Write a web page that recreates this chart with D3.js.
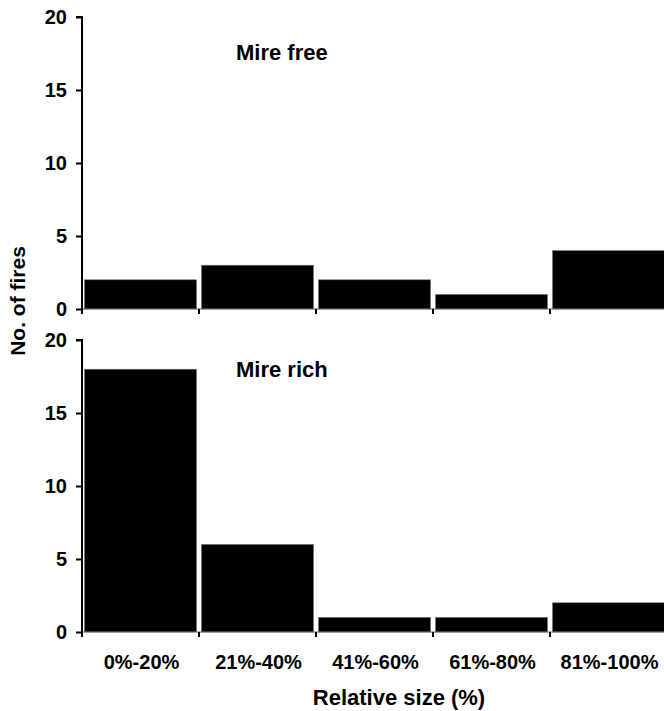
<!DOCTYPE html>
<html>
<head>
<meta charset="utf-8">
<script src="https://cdn.jsdelivr.net/npm/d3@7"></script>
<style>
  html, body { margin: 0; padding: 0; background: #fff; }
  svg { display: block; }
  text { font-family: "Liberation Sans", Arial, sans-serif; font-weight: bold; fill: #000; }
</style>
</head>
<body>
<script>
// Size classes of fires (relative size)
const categories = ["0%-20%", "21%-40%", "41%-60%", "61%-80%", "81%-100%"];
// Number of fires per class, per panel
const mireFree = [2, 3, 2, 1, 4];
const mireRich = [18, 6, 1, 1, 2];
const panelTitles = ["Mire free", "Mire rich"];
const yTicks = [0, 5, 10, 15, 20];
const yLabel = "No. of fires";
const xLabel = "Relative size (%)";

const W = 664, H = 711;
const svg = d3.select("body").append("svg").attr("width", W).attr("height", H);

const axisX = 82;
const x = d3.scaleBand().domain(categories).range([axisX, 667]).padding(0);

const panels = [
  { values: mireFree, title: panelTitles[0], top: 17, bottom: 309, titleY: 60 },
  { values: mireRich, title: panelTitles[1], top: 340, bottom: 632, titleY: 377 }
];

panels.forEach(p => {
  const y = d3.scaleLinear().domain([0, 20]).range([p.bottom, p.top]);
  const g = svg.append("g");

  // bars
  g.selectAll("rect.bar").data(p.values).join("rect")
    .attr("class", "bar")
    .attr("x", (d, i) => x(categories[i]) + 2.5)
    .attr("width", x.bandwidth() - 5)
    .attr("y", d => y(d))
    .attr("height", d => y(0) - y(d))
    .attr("fill", "#000")
    .attr("stroke", "#777")
    .attr("stroke-width", 0.6);

  // x baseline
  g.append("line")
    .attr("x1", axisX).attr("x2", W)
    .attr("y1", y(0)).attr("y2", y(0))
    .attr("stroke", "#666").attr("stroke-width", 1);

  // category boundary ticks
  g.selectAll("line.xtick").data(categories.slice(1)).join("line")
    .attr("class", "xtick")
    .attr("x1", d => x(d)).attr("x2", d => x(d))
    .attr("y1", y(0)).attr("y2", y(0) + 5)
    .attr("stroke", "#000").attr("stroke-width", 2);

  // y axis
  const yAxis = d3.axisLeft(y).tickValues(yTicks).tickSize(6).tickPadding(9).tickFormat(d3.format("d"));
  const ga = g.append("g").attr("transform", `translate(${axisX},0)`).call(yAxis);
  ga.select(".domain").attr("d", `M-6,${y(20)}H0V${y(0) + 5}`).attr("stroke", "#000").attr("stroke-width", 2).attr("fill", "none");
  ga.selectAll(".tick line").attr("stroke", "#000").attr("stroke-width", 2);
  ga.selectAll(".tick text").style("font-size", "20px").style("font-family", "Liberation Sans, Arial, sans-serif").style("font-weight", "bold").attr("fill", "#000");

  // panel title
  g.append("text")
    .attr("x", 236).attr("y", p.titleY)
    .style("font-size", "22px")
    .text(p.title);
});

// axis titles
svg.append("text")
  .attr("transform", "translate(25,301) rotate(-90)")
  .attr("text-anchor", "middle")
  .style("font-size", "21px")
  .text(yLabel);

svg.selectAll("text.cat").data(categories).join("text")
  .attr("class", "cat")
  .attr("x", d => x(d) + x.bandwidth() / 2 + 1)
  .attr("y", 669)
  .attr("text-anchor", "middle")
  .style("font-size", "20px")
  .text(d => d);

svg.append("text")
  .attr("x", 399).attr("y", 705)
  .attr("text-anchor", "middle")
  .style("font-size", "22px")
  .text(xLabel);
</script>
</body>
</html>
